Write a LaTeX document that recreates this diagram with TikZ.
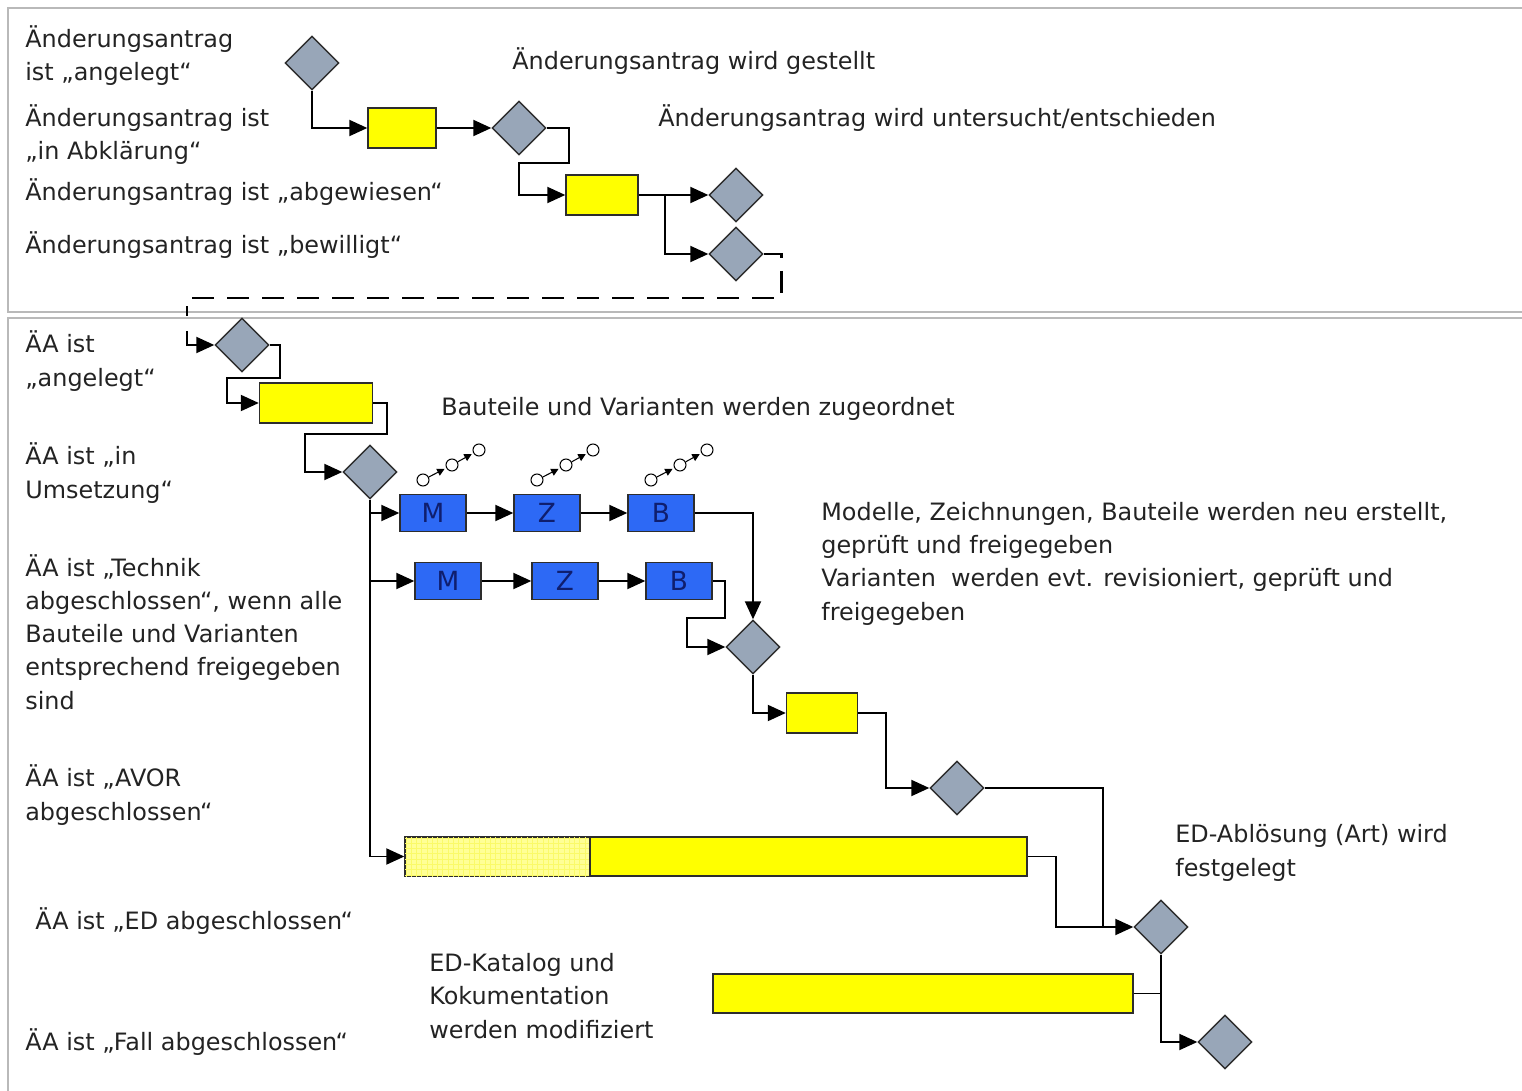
\documentclass[tikz,border=0pt]{standalone}
\usepackage{fontspec}
\setmainfont{DejaVu Sans}
\usetikzlibrary{arrows.meta,shapes.geometric,calc,patterns}
\definecolor{evgray}{RGB}{152,166,184}
\definecolor{fnyellow}{RGB}{255,255,0}
\definecolor{paleyellow}{RGB}{255,255,150}
\definecolor{gridyellow}{RGB}{250,250,105}
\definecolor{ptblue}{RGB}{45,105,245}
\definecolor{navytext}{RGB}{15,30,110}
\definecolor{darkline}{RGB}{45,45,45}
\definecolor{textgray}{RGB}{35,35,35}
\tikzstyle{Event}=[shape=diamond, draw=darkline, fill=evgray, line width=0.8pt, minimum width=1.08cm, minimum height=1.08cm, inner sep=0pt]
\tikzstyle{Function}=[shape=rectangle, draw=darkline, fill=fnyellow, line width=0.8pt, minimum height=0.8cm, inner sep=0pt]
\tikzstyle{Part}=[shape=rectangle, draw=darkline, fill=ptblue, line width=0.8pt, minimum width=1.32cm, minimum height=0.74cm, inner sep=0pt, text=navytext, font=\fontsize{15}{16}\selectfont]
\tikzstyle{Ring}=[shape=circle, draw=black, fill=white, line width=0.6pt, minimum size=0.24cm, inner sep=0pt]
\tikzstyle{Label}=[anchor=base west, inner sep=0pt, align=left, text=textgray, font=\fontsize{13.6}{18.8}\selectfont]
\tikzstyle{arrow}=[line width=1.1pt, -{Triangle[length=0.36cm,width=0.32cm]}]
\tikzstyle{line}=[line width=1.1pt]
\tikzstyle{dashline}=[line width=1.7pt, dash pattern=on 0.44cm off 0.26cm]
\tikzstyle{tiny}=[line width=0.6pt, -{Triangle[length=0.15cm,width=0.15cm]}, shorten >=1pt]
\tikzstyle{frame}=[draw=gray!55, line width=1.2pt]
\pgfdeclarelayer{nodelayer}
\pgfdeclarelayer{edgelayer}
\pgfsetlayers{main, nodelayer, edgelayer}

\begin{document}
\begin{tikzpicture}[x=0.02cm, y=-0.02cm]
	\useasboundingbox (0,0) rectangle (1522,1091);
	% panels
	\draw [style=frame] (1522,8) -- (8,8) -- (8,312) -- (1522,312);
	\draw [style=frame] (1522,318) -- (8,318) -- (8,1091);
	\begin{pgfonlayer}{nodelayer}
		% upper panel
		\node [style=Event] (d1) at (312,63) {};
		\node [style=Function, minimum width=1.36cm] (f1) at (402,128) {};
		\node [style=Event] (d2) at (519,128) {};
		\node [style=Function, minimum width=1.44cm] (f2) at (602,195) {};
		\node [style=Event] (d3) at (736,195) {};
		\node [style=Event] (d4) at (736,254) {};
		% labels sit on the baseline of their last line
		\node [style=Label] (t1) at (25,81) {Änderungsantrag\\ist „angelegt“};
		\node [style=Label] (t2) at (25,160) {Änderungsantrag ist\\„in Abklärung“};
		\node [style=Label] (t3) at (25,201) {Änderungsantrag ist „abgewiesen“};
		\node [style=Label] (t4) at (25,254) {Änderungsantrag ist „bewilligt“};
		\node [style=Label] (w1) at (512,70) {Änderungsantrag wird gestellt};
		\node [style=Label] (w2) at (658,127) {Änderungsantrag wird untersucht/entschieden};
		% lower panel
		\node [style=Event] (d5) at (242,345) {};
		\node [style=Function, minimum width=2.26cm] (f3) at (316,403) {};
		\node [style=Event] (d6) at (370,472) {};
		\node [style=Part] (m1) at (433,513) {M};
		\node [style=Part] (z1) at (547,513) {Z};
		\node [style=Part] (b1) at (661,513) {B};
		\node [style=Part] (m2) at (448,581) {M};
		\node [style=Part] (z2) at (565,581) {Z};
		\node [style=Part] (b2) at (679,581) {B};
		\node [style=Event] (d7) at (753,647) {};
		\node [style=Function, minimum width=1.42cm] (f4) at (822,713) {};
		\node [style=Event] (d8) at (957,788) {};
		\node [style=Function, minimum width=3.7cm, minimum height=0.78cm, fill=paleyellow, postaction={pattern=grid, pattern color=gridyellow}] (ab1) at (497.5,856.5) {};
		\node [style=Function, minimum width=8.74cm, minimum height=0.78cm] (ab2) at (808.5,856.5) {};
		\node [style=Event] (d9) at (1161,927) {};
		\node [style=Function, minimum width=8.4cm, minimum height=0.78cm] (ed) at (923,993.5) {};
		\node [style=Event] (d10) at (1225,1042) {};
		\foreach \p in {m1, z1, b1} {
			\node [style=Ring] (\p-i1) at ($(\p)+(-10,-33)$) {};
			\node [style=Ring] (\p-i2) at ($(\p)+(19,-48)$) {};
			\node [style=Ring] (\p-i3) at ($(\p)+(46,-63)$) {};
			\draw [style=tiny] (\p-i1) -- (\p-i2);
			\draw [style=tiny] (\p-i2) -- (\p-i3);
		}
		\node [style=Label] (s1) at (25,386) {ÄA ist\\„angelegt“};
		\node [style=Label] (s2) at (25,498) {ÄA ist „in\\Umsetzung“};
		\node [style=Label] (s3) at (25,709) {ÄA ist „Technik\\abgeschlossen“, wenn alle\\Bauteile und Varianten\\entsprechend freigegeben\\sind};
		\node [style=Label] (s4) at (25,820) {ÄA ist „AVOR\\abgeschlossen“};
		\node [style=Label] (s5) at (35,929) {ÄA ist „ED abgeschlossen“};
		\node [style=Label] (s6) at (25,1050) {ÄA ist „Fall abgeschlossen“};
		\node [style=Label] (w3) at (441,415) {Bauteile und Varianten werden zugeordnet};
		\node [style=Label] (w4) at (821,620) {Modelle, Zeichnungen, Bauteile werden neu erstellt,\\geprüft und freigegeben\\Varianten~ werden evt. revisioniert, geprüft und\\freigegeben};
		\node [style=Label] (w5) at (1175,876) {ED-Ablösung (Art) wird\\festgelegt};
		\node [style=Label] (w6) at (429,1038) {ED-Katalog und\\Kokumentation\\werden modifiziert};
		\coordinate (brk) at (187,316);
		\coordinate (cont) at (187,331);
		\coordinate (j1) at (1103,927);
	\end{pgfonlayer}
	\begin{pgfonlayer}{edgelayer}
		\draw [style=arrow] (d1.south) |- (f1.west);
		\draw [style=arrow] (f1.east) -- (d2.west);
		\draw [style=arrow] (d2.east) -- ++(22,0) |- ++(-50,35) |- (f2.west);
		\draw [style=arrow] (f2.east) -- (d3.west);
		\draw [style=arrow] (f2.east) -- ++(26,0) |- (d4.west);
		\draw [style=dashline] (d4.east) -- ++(18,0) -- ++(0,44) -| (brk);
		\draw [style=arrow] (cont) |- (d5.west);
		\draw [style=arrow] (d5.east) -- ++(10,0) |- ++(-53,33) |- (f3.west);
		\draw [style=arrow] (f3.east) -- ++(14,0) |- ++(-82,31) |- (d6.west);
		\draw [style=arrow] (d6.south) |- (m1.west);
		\draw [style=arrow] (d6.south) |- (m2.west);
		\draw [style=arrow] (d6.south) |- (ab1.west);
		\draw [style=arrow] (m1) -- (z1);
		\draw [style=arrow] (z1) -- (b1);
		\draw [style=arrow] (m2) -- (z2);
		\draw [style=arrow] (z2) -- (b2);
		\draw [style=arrow] (b1.east) -| (d7.north);
		\draw [style=arrow] (b2.east) -- ++(12,0) |- ++(-38,37) |- (d7.west);
		\draw [style=arrow] (d7.south) |- (f4.west);
		\draw [style=arrow] (f4.east) -- ++(28,0) |- (d8.west);
		\draw [style=line] (d8.east) -| (j1);
		\draw [style=arrow] (ab2.east) -- ++(28,0) |- (d9.west);
		\draw [style=arrow] (d9.south) |- (d10.west);
		\draw [style=line] (ed.east) -- (ed.east -| d9.south);
	\end{pgfonlayer}
\end{tikzpicture}
\end{document}
